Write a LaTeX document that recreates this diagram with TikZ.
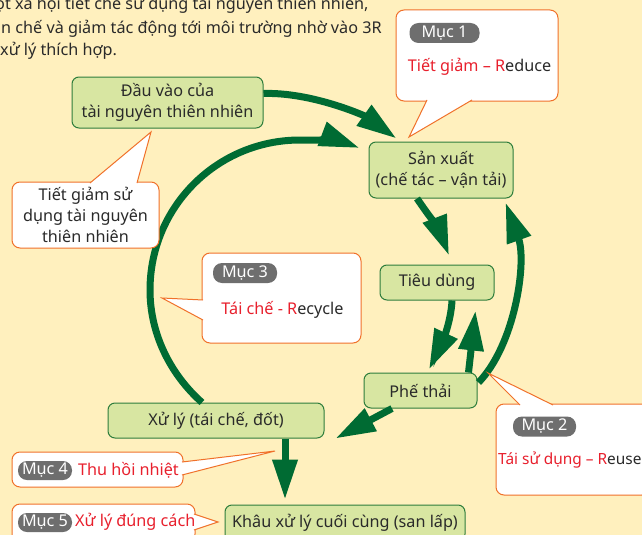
\documentclass[tikz,border=0pt]{standalone}
\usepackage{fontspec}
\setmainfont{Noto Sans}
\usetikzlibrary{arrows.meta}

\definecolor{paper}{HTML}{FFF0BE}
\definecolor{stagefill}{HTML}{D8E6A2}
\definecolor{stageline}{HTML}{2E7D3C}
\definecolor{flowgreen}{HTML}{006B33}
\definecolor{noteline}{HTML}{F0712A}
\definecolor{notered}{HTML}{E8202D}
\definecolor{badgegray}{HTML}{6E6E6E}
\definecolor{ink}{HTML}{2A2A2A}

\begin{document}
\begin{tikzpicture}[x=1pt,y=-1pt]
\tikzstyle{every node}=[font=\fontsize{16.2}{21}\selectfont, text=ink]
\tikzstyle{stage}=[draw=stageline, fill=stagefill, line width=1pt, rounded corners=7pt, align=center, inner sep=0pt]
\tikzstyle{note}=[draw=noteline, fill=white, line width=1pt, rounded corners=8pt, inner sep=0pt]
\tikzstyle{tail}=[fill=white, draw=noteline, line width=1pt]
\tikzstyle{badge}=[fill=badgegray, text=white, rounded corners=9pt, inner sep=0pt, minimum height=20pt]
\tikzstyle{flow}=[draw=flowgreen, line width=7pt, -{Triangle[length=40pt,width=24pt]}]

\useasboundingbox (0,0) rectangle (642,535);
\clip (0,0) rectangle (642,535);
\fill[paper] (0,0) rectangle (642,535);

% text above the diagram
\node[anchor=west, inner sep=0pt] (introa) at (-5,5) {ột xã hội tiết chế sử dụng tài nguyên thiên nhiên,};
\node[anchor=west, inner sep=0pt] (introb) at (1,29) {n chế và giảm tác động tới môi trường nhờ vào 3R};
\node[anchor=west, inner sep=0pt] (introc) at (0,51) {xử lý thích hợp.};

% stages
\node[stage, minimum width=191pt, minimum height=51pt] (dauvao) at (167.5,102.5) {Đầu vào của\\tài nguyên thiên nhiên};
\node[stage, minimum width=144pt, minimum height=56pt] (sanxuat) at (441,170) {Sản xuất\\(chế tác – vận tải)};
\node[stage, minimum width=114pt, minimum height=35pt] (tieudung) at (437,282.5) {Tiêu dùng};
\node[stage, minimum width=113pt, minimum height=35pt] (phethai) at (420.5,390.5) {Phế thải};
\node[stage, minimum width=216pt, minimum height=35pt] (xuly) at (216,420.5) {Xử lý (tái chế, đốt)};
\node[stage, minimum width=240pt, minimum height=36pt] (khau) at (345,523) {Khâu xử lý cuối cùng (san lấp)};

% flows
\draw[flow] ([shift={(0,-9)}]dauvao.east) .. controls (312,92) and (365,116) .. ([shift={(28,-3)}]sanxuat.north west);
\draw[flow] ([xshift=-14pt]xuly.north) .. controls (169.5,373.5) and (150,333) .. (150,290)
  .. controls (150,207) and (217,140) .. (300,140)
  .. controls (321,140) and (341,141) .. ([shift={(-9,-22)}]sanxuat.west);
\draw[flow] ([xshift=-24pt]sanxuat.south) .. controls (425,210) and (440,232) .. ([shift={(12,-9)}]tieudung.north);
\draw[flow] ([xshift=15pt]tieudung.south) .. controls (451,322) and (442,342) .. ([shift={(8.5,-3)}]phethai.north);
\draw[flow] ([xshift=-9pt]phethai.north east) -- ([shift={(-19,10)}]tieudung.south east);
\draw[flow] ([shift={(1,-8)}]phethai.east) .. controls (515,345) and (527,262) .. ([shift={(-8,4)}]sanxuat.south east);
\draw[flow] ([xshift=-28.5pt]phethai.south) -- ([xshift=11pt]xuly.south east);
\draw[flow] ([xshift=69pt]xuly.south) -- ([shift={(-60,-5)}]khau.north);

% notes
\node[note, minimum width=162pt, minimum height=91pt] (muc1) at (477,55.5) {};
\filldraw[tail] (427,100) -- (409,137) -- (472,100);
\node[badge, minimum width=70pt] (muc1tag) at (444.5,33) {Mục 1};
\node (muc1txt) at (479.5,67) {\textcolor{notered}{Tiết giảm – R}educe};

\node[note, minimum width=147pt, minimum height=66pt, align=center] (tietgiam) at (85.5,215)
  {Tiết giảm sử\\dụng tài nguyên\\thiên nhiên};
\filldraw[tail] (90,183) -- (151,132) -- (137,183);

\node[note, minimum width=159pt, minimum height=90pt] (muc3) at (281.5,298) {};
\filldraw[tail] (203,300) -- (162,298) -- (203,320);
\node[badge, minimum width=64pt] (muc3tag) at (245,273) {Mục 3};
\node (muc3txt) at (282.5,310) {\textcolor{notered}{Tái chế - R}ecycle};

\node[note, minimum width=154pt, minimum height=91pt] (muc2) at (573,449.5) {};
\filldraw[tail] (520,405) -- (488,373) -- (553,405);
\node[badge, minimum width=63pt] (muc2tag) at (544.5,426.5) {Mục 2};
\node[anchor=west, inner sep=0pt, font=\fontsize{15.4}{20}\selectfont] (muc2txt) at (498,460) {\textcolor{notered}{Tái sử dụng – R}euse};

\node[note, minimum width=171pt, minimum height=35pt] (muc4) at (97.5,469.5) {};
\filldraw[tail] (182,462) -- (275,451) -- (182,475);
\node[badge, minimum width=54pt, minimum height=19pt] (muc4tag) at (45,470.5) {Mục 4};
\node[anchor=west, inner sep=0pt, text=notered] (muc4txt) at (78,470) {Thu hồi nhiệt};

\node[note, minimum width=183pt, minimum height=38pt] (muc5) at (103.5,523) {};
\filldraw[tail] (194,514) -- (218,522) -- (194,530);
\node[badge, minimum width=54pt, minimum height=19pt] (muc5tag) at (45,522.5) {Mục 5};
\node[anchor=west, inner sep=0pt, text=notered] (muc5txt) at (75,522) {Xử lý đúng cách};
\end{tikzpicture}
\end{document}
